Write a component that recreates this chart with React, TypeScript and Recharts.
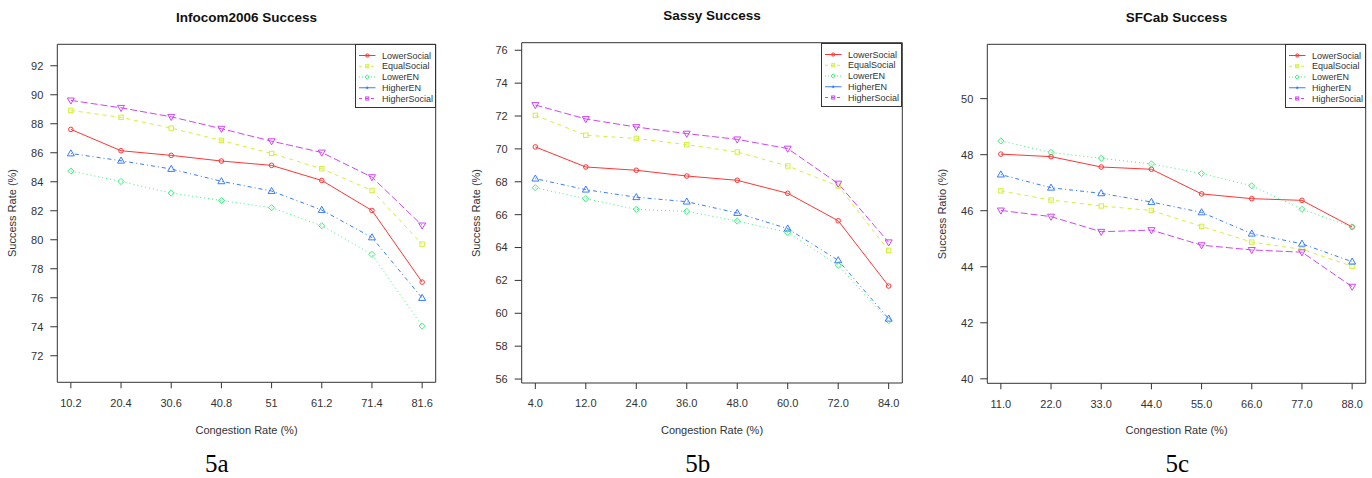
import React from 'react';
import { LineChart, Line, XAxis, YAxis, ReferenceArea } from 'recharts';

// ---------- data ----------
const seriesNames = ['LowerSocial', 'EqualSocial', 'LowerEN', 'HigherEN', 'HigherSocial'];

const infocomTicks = ['10.2', '20.4', '30.6', '40.8', '51', '61.2', '71.4', '81.6'];
const infocomLowerSocial = [87.61, 86.14, 85.82, 85.43, 85.13, 84.09, 82.02, 77.08];
const infocomEqualSocial = [88.92, 88.44, 87.7, 86.85, 85.95, 84.9, 83.4, 79.7];
const infocomLowerEN = [84.74, 84.02, 83.22, 82.71, 82.21, 80.97, 78.99, 74.05];
const infocomHigherEN = [85.95, 85.45, 84.88, 84.03, 83.36, 82.05, 80.16, 75.98];
const infocomHigherSocial = [89.61, 89.1, 88.48, 87.66, 86.8, 86.02, 84.32, 80.99];
const infocomYTicks = [72, 74, 76, 78, 80, 82, 84, 86, 88, 90, 92];

const sassyTicks = ['4.0', '12.0', '24.0', '36.0', '48.0', '60.0', '72.0', '84.0'];
const sassyLowerSocial = [70.12, 68.9, 68.7, 68.35, 68.09, 67.3, 65.63, 61.66];
const sassyEqualSocial = [72.04, 70.83, 70.64, 70.26, 69.81, 68.96, 67.74, 63.83];
const sassyLowerEN = [67.64, 66.97, 66.32, 66.2, 65.61, 64.92, 62.92, 59.55];
const sassyHigherEN = [68.19, 67.52, 67.06, 66.79, 66.1, 65.15, 63.22, 59.67];
const sassyHigherSocial = [72.67, 71.82, 71.33, 70.93, 70.58, 70.02, 67.89, 64.32];
const sassyYTicks = [56, 58, 60, 62, 64, 66, 68, 70, 72, 74, 76];

const sfcabTicks = ['11.0', '22.0', '33.0', '44.0', '55.0', '66.0', '77.0', '88.0'];
const sfcabLowerSocial = [48.02, 47.93, 47.56, 47.48, 46.6, 46.43, 46.37, 45.42];
const sfcabEqualSocial = [46.71, 46.38, 46.17, 46.01, 45.44, 44.88, 44.62, 44.02];
const sfcabLowerEN = [48.49, 48.08, 47.87, 47.67, 47.33, 46.89, 46.05, 45.42];
const sfcabHigherEN = [47.29, 46.82, 46.62, 46.31, 45.94, 45.18, 44.82, 44.18];
const sfcabHigherSocial = [46.01, 45.79, 45.25, 45.31, 44.77, 44.6, 44.52, 43.29];
const sfcabYTicks = [40, 42, 44, 46, 48, 50];

// ---------- styles ----------
const colors = ['#FF3535', '#D2F03A', '#3AF27C', '#3A7CFF', '#CE45F5'];
const dashes = ['0', '4 4', '1 3', '1 3 4 3', '7 3'];
const shapes = ['circle', 'square', 'diamond', 'triUp', 'triDown'];
const legendShapes = ['circle', 'square', 'diamond', 'dot', 'square'];
const legendDashes = ['0', '3 3', '1 2', '0', '3 3'];

const FONT = '"Liberation Sans", Arial, Helvetica, sans-serif';
const INK = '#333';
const H = 478;
const XPAD = 0.27;

function buildRows(labels: string[], series: number[][]) {
  return labels.map((_, i) => {
    const row: Record<string, number> = { i: i + 1 };
    seriesNames.forEach((n, s) => {
      row[n] = series[s][i];
    });
    return row;
  });
}

function Marker({ shape, cx, cy, color, s = 1 }: { shape: string; cx: number; cy: number; color: string; s?: number }) {
  const common = { fill: 'none', stroke: color, strokeWidth: 1 };
  if (shape === 'circle') return <circle cx={cx} cy={cy} r={2.3 * s} {...common} />;
  if (shape === 'dot') return <circle cx={cx} cy={cy} r={1.4 * s} fill={color} stroke={color} strokeWidth={0.6} />;
  if (shape === 'square') return <rect x={cx - 2.2 * s} y={cy - 2.2 * s} width={4.4 * s} height={4.4 * s} {...common} />;
  if (shape === 'diamond')
    return (
      <polygon
        points={`${cx},${cy - 3.1 * s} ${cx + 3.1 * s},${cy} ${cx},${cy + 3.1 * s} ${cx - 3.1 * s},${cy}`}
        {...common}
      />
    );
  if (shape === 'triUp')
    return (
      <polygon
        points={`${cx},${cy - 3.7 * s} ${cx + 3.5 * s},${cy + 2.4 * s} ${cx - 3.5 * s},${cy + 2.4 * s}`}
        {...common}
      />
    );
  return (
    <polygon
      points={`${cx},${cy + 3.7 * s} ${cx + 3.5 * s},${cy - 2.4 * s} ${cx - 3.5 * s},${cy - 2.4 * s}`}
      {...common}
    />
  );
}

const makeDot = (shape: string, color: string) => (props: any) => {
  const { cx, cy, index } = props;
  if (cx == null || cy == null) return <g key={`d-${index}`} />;
  return (
    <g key={`d-${index}`}>
      <Marker shape={shape} cx={cx} cy={cy} color={color} />
    </g>
  );
};

function LegendBox({ left, top }: { left: number; top: number }) {
  const w = 81;
  const h = 64;
  return (
    <div
      style={{
        position: 'absolute',
        left,
        top,
        width: w,
        height: h,
        boxSizing: 'border-box',
        border: `1px solid ${INK}`,
        background: '#fff',
      }}
    >
      <svg width={w - 2} height={h - 2} style={{ position: 'absolute', left: 0, top: 0 }}>
        {seriesNames.map((n, k) => {
          const y = 10.5 + k * 10.75;
          return (
            <g key={n}>
              <line x1={3} x2={19.5} y1={y} y2={y} stroke={colors[k]} strokeWidth={1} strokeDasharray={legendDashes[k]} />
              <Marker shape={legendShapes[k]} cx={11.2} cy={y} color={colors[k]} s={0.7} />
              <text x={26} y={y + 3.2} fontSize={9} fill={INK} fontFamily={FONT}>
                {n}
              </text>
            </g>
          );
        })}
      </svg>
    </div>
  );
}

type Panel = {
  title: string;
  titleY: number;
  yLabel: string;
  caption: string;
  captionX: number;
  labels: string[];
  series: number[][];
  yDomain: [number, number];
  yTicks: number[];
  left: number;
  width: number;
  plotL: number;
  plotR: number;
  plotT: number;
  plotB: number;
};

const panels: Panel[] = [
  {
    title: 'Infocom2006 Success',
    titleY: 17.7,
    yLabel: 'Success Rate (%)',
    caption: '5a',
    captionX: 216.7,
    labels: infocomTicks,
    series: [infocomLowerSocial, infocomEqualSocial, infocomLowerEN, infocomHigherEN, infocomHigherSocial],
    yDomain: [70.17, 93.48],
    yTicks: infocomYTicks,
    left: 0,
    width: 450,
    plotL: 57.3,
    plotR: 435.7,
    plotT: 44.3,
    plotB: 382.3,
  },
  {
    title: 'Sassy Success',
    titleY: 16,
    yLabel: 'Success Rate (%)',
    caption: '5b',
    captionX: 242.7,
    labels: sassyTicks,
    series: [sassyLowerSocial, sassyEqualSocial, sassyLowerEN, sassyHigherEN, sassyHigherSocial],
    yDomain: [55.76, 76.46],
    yTicks: sassyYTicks,
    left: 455,
    width: 460,
    plotL: 66.7,
    plotR: 447.3,
    plotT: 42.7,
    plotB: 383,
  },
  {
    title: 'SFCab Success',
    titleY: 17.7,
    yLabel: 'Success Ratio (%)',
    caption: '5c',
    captionX: 262.3,
    labels: sfcabTicks,
    series: [sfcabLowerSocial, sfcabEqualSocial, sfcabLowerEN, sfcabHigherEN, sfcabHigherSocial],
    yDomain: [39.84, 51.94],
    yTicks: sfcabYTicks,
    left: 915,
    width: 457,
    plotL: 72.3,
    plotR: 450.7,
    plotT: 44.3,
    plotB: 383.3,
  },
];

function PanelChart({ p }: { p: Panel }) {
  const rows = buildRows(p.labels, p.series);
  const n = p.labels.length;
  const xDomain: [number, number] = [1 - XPAD, n + XPAD];
  const xTicks = p.labels.map((_, i) => i + 1);
  const cx = (p.plotL + p.plotR) / 2;
  const cy = (p.plotT + p.plotB) / 2;
  const tickStyle = { fontSize: 11, fill: INK, fontFamily: FONT };
  return (
    <div style={{ position: 'absolute', left: p.left, top: 0, width: p.width, height: H }}>
      <LineChart
        width={p.width}
        height={H}
        data={rows}
        margin={{ top: p.plotT, right: p.width - p.plotR, bottom: 0, left: 0 }}
      >
        <XAxis
          dataKey="i"
          type="number"
          domain={xDomain}
          ticks={xTicks}
          allowDataOverflow
          tickFormatter={(v: number) => p.labels[v - 1]}
          height={H - p.plotB}
          axisLine={false}
          tickSize={6}
          tickMargin={10.5}
          tickLine={{ stroke: INK }}
          tick={tickStyle}
          interval={0}
        />
        <YAxis
          type="number"
          domain={p.yDomain}
          ticks={p.yTicks}
          allowDataOverflow
          width={p.plotL}
          axisLine={false}
          tickSize={7}
          tickMargin={7}
          tickLine={{ stroke: INK }}
          tick={tickStyle}
          interval={0}
        />
        <ReferenceArea
          x1={xDomain[0]}
          x2={xDomain[1]}
          y1={p.yDomain[0]}
          y2={p.yDomain[1]}
          fill="none"
          stroke={INK}
          strokeWidth={1}
          fillOpacity={0}
          ifOverflow="visible"
        />
        {seriesNames.map((name, k) => (
          <Line
            key={name}
            dataKey={name}
            type="linear"
            stroke={colors[k]}
            strokeWidth={1}
            strokeDasharray={dashes[k]}
            dot={makeDot(shapes[k], colors[k])}
            activeDot={false}
            isAnimationActive={false}
          />
        ))}
      </LineChart>
      <div
        style={{
          position: 'absolute',
          left: cx - 150,
          width: 300,
          top: p.titleY - 8,
          height: 16,
          lineHeight: '16px',
          textAlign: 'center',
          fontFamily: FONT,
          fontWeight: 'bold',
          fontSize: 13.5,
          color: '#111',
        }}
      >
        {p.title}
      </div>
      <div
        style={{
          position: 'absolute',
          left: cx - 150,
          width: 300,
          top: 429.5 - 7,
          height: 14,
          lineHeight: '14px',
          textAlign: 'center',
          fontFamily: FONT,
          fontSize: 11,
          color: INK,
        }}
      >
        Congestion Rate (%)
      </div>
      <div
        style={{
          position: 'absolute',
          left: p.plotL - 45.6 - 100,
          width: 200,
          top: cy - 7,
          height: 14,
          lineHeight: '14px',
          textAlign: 'center',
          fontFamily: FONT,
          fontSize: 11,
          color: INK,
          transform: 'rotate(-90deg)',
        }}
      >
        {p.yLabel}
      </div>
      <div
        style={{
          position: 'absolute',
          left: p.captionX - 50,
          width: 100,
          top: 464 - 15,
          height: 30,
          lineHeight: '30px',
          textAlign: 'center',
          fontFamily: '"Liberation Serif", "Times New Roman", serif',
          fontSize: 25,
          color: '#000',
        }}
      >
        {p.caption}
      </div>
      <LegendBox left={p.plotR - 81} top={p.plotT} />
    </div>
  );
}

export default function App() {
  return (
    <div style={{ position: 'absolute', left: 0, top: 0, width: 1372, height: H, background: '#fff', overflow: 'hidden' }}>
      {panels.map((p) => (
        <PanelChart key={p.title} p={p} />
      ))}
    </div>
  );
}
